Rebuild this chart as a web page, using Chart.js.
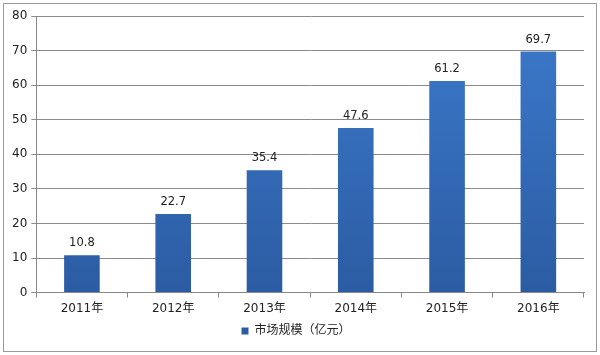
<!DOCTYPE html>
<html lang="zh">
<head>
<meta charset="UTF-8">
<title>市场规模</title>
<script src="https://cdn.jsdelivr.net/npm/chart.js"></script>
<style>
    html, body { margin: 0; padding: 0; background: #fff; }
    #wrap { width: 600px; height: 355px; position: relative; }
</style>
</head>
<body>
<div id="wrap"><canvas id="c" width="600" height="355"></canvas></div>
<script>
    const years = ['2011年', '2012年', '2013年', '2014年', '2015年', '2016年'];
    const marketSize = [10.8, 22.7, 35.4, 47.6, 61.2, 69.7];
    const seriesName = '市场规模（亿元）';
    const yTicks = [0, 10, 20, 30, 40, 50, 60, 70, 80];

    const FONT = '"DejaVu Sans", "Noto Sans CJK SC", sans-serif';

    function barFill(ctx) {
        const area = ctx.chart.chartArea;
        if (!area) return '#3470bb';
        const g = ctx.chart.ctx.createLinearGradient(0, area.top, 0, area.bottom);
        g.addColorStop(0, '#3c7acb');
        g.addColorStop(1, '#2b5ca3');
        return g;
    }

    // frame around the whole picture
    const framePlugin = {
        id: 'frame',
        afterDraw(chart) {
            const c = chart.ctx;
            c.save();
            c.strokeStyle = '#9a9a9a';
            c.lineWidth = 1;
            c.strokeRect(3.5, 3.5, chart.width - 7, chart.height - 7);
            c.restore();
        }
    };

    // value labels above the bars
    const labelPlugin = {
        id: 'barLabels',
        afterDatasetsDraw(chart) {
            const c = chart.ctx;
            const meta = chart.getDatasetMeta(0);
            c.save();
            c.font = '11.5px ' + FONT;
            c.fillStyle = '#222';
            c.textAlign = 'center';
            c.textBaseline = 'bottom';
            meta.data.forEach((bar, i) => {
                c.fillText(marketSize[i].toString(), bar.x, bar.y - 6);
            });
            c.restore();
        }
    };

    new Chart(document.getElementById('c'), {
        type: 'bar',
        data: {
            labels: years,
            datasets: [{
                label: seriesName,
                data: marketSize,
                backgroundColor: barFill,
                borderWidth: 0,
                barPercentage: 0.39,
                categoryPercentage: 1
            }]
        },
        options: {
            responsive: false,
            animation: false,
            layout: { padding: { left: 8, right: 16, top: 16, bottom: 8 } },
            plugins: {
                tooltip: { enabled: false },
                legend: {
                    position: 'bottom',
                    labels: {
                        boxWidth: 7,
                        boxHeight: 7,
                        padding: 5,
                        color: '#222',
                        font: { family: FONT, size: 12 }
                    }
                }
            },
            scales: {
                x: {
                    grid: {
                        offset: true,
                        drawOnChartArea: false,
                        color: '#888',
                        tickLength: 5
                    },
                    border: { color: '#888' },
                    ticks: {
                        color: '#222',
                        padding: 4,
                        font: { family: FONT, size: 12 }
                    }
                },
                y: {
                    min: 0,
                    max: 80,
                    afterBuildTicks(axis) {
                        axis.ticks = yTicks.map(v => ({ value: v }));
                    },
                    grid: { color: '#8c8c8c', tickLength: 5 },
                    border: { color: '#888' },
                    ticks: {
                        color: '#222',
                        padding: 4,
                        font: { family: FONT, size: 12 }
                    }
                }
            }
        },
        plugins: [framePlugin, labelPlugin]
    });
</script>
</body>
</html>
